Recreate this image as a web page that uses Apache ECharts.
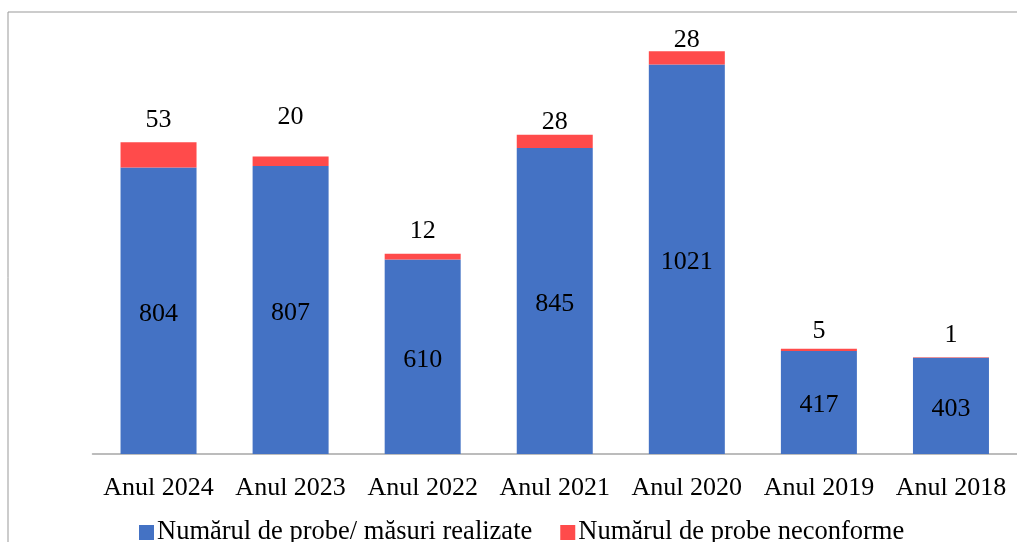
<!DOCTYPE html>
<html>
<head>
<meta charset="utf-8">
<script src="https://cdn.jsdelivr.net/npm/echarts@6/dist/echarts.min.js"></script>
<style>
  html, body { margin: 0; padding: 0; background: #fff; }
  #chart { width: 1017px; height: 542px; }
</style>
</head>
<body>
<div id="chart"></div>
<script>
var categories = ["Anul 2024", "Anul 2023", "Anul 2022", "Anul 2021", "Anul 2020", "Anul 2019", "Anul 2018"];
var realizate = [804, 807, 610, 845, 1021, 417, 403];
var neconforme = [53, 20, 12, 28, 28, 5, 1];
var seriesNames = ["Numărul de probe/ măsuri realizate", "Numărul de probe neconforme"];

// the labels above the red segments were placed by hand in the original
var topLabelGap = [9, 26, 10, 0, -2, 5, 9];

var font = "'Liberation Serif', 'Times New Roman', serif";

var chart = echarts.init(document.getElementById("chart"));

var redData = neconforme.map(function (v, i) {
  return { value: v, label: { distance: topLabelGap[i] } };
});

chart.setOption({
  animation: false,
  textStyle: { fontFamily: font },
  graphic: [
    {
      type: "rect",
      shape: { x: 8, y: 12, width: 1200, height: 700 },
      style: { fill: "none", stroke: "#999999", lineWidth: 1 },
      silent: true
    }
  ],
  legend: {
    data: seriesNames,
    left: 134,
    top: 514,
    itemWidth: 15,
    itemHeight: 15,
    itemGap: 28,
    icon: "rect",
    textStyle: { fontFamily: font, fontSize: 26.5, color: "#000", padding: [0, 0, 0, -2] }
  },
  grid: {
    left: 92.5,
    width: 929,
    top: 27,
    bottom: 88
  },
  xAxis: {
    type: "category",
    data: categories,
    axisTick: { show: false },
    axisLine: { lineStyle: { color: "#a6a6a6", width: 1.5 } },
    axisLabel: {
      interval: 0,
      color: "#000",
      fontFamily: font,
      fontSize: 26,
      margin: 21
    }
  },
  yAxis: {
    type: "value",
    min: 200,
    max: 1100,
    show: false,
    splitLine: { show: false }
  },
  series: [
    {
      name: seriesNames[0],
      type: "bar",
      stack: "total",
      barWidth: 76,
      data: realizate,
      itemStyle: { color: "#4472C4" },
      label: {
        show: true,
        position: "inside",
        offset: [0, 3],
        color: "#000",
        fontFamily: font,
        fontSize: 26
      }
    },
    {
      name: seriesNames[1],
      type: "bar",
      stack: "total",
      barWidth: 76,
      data: redData,
      itemStyle: { color: "#FF4B4B" },
      label: {
        show: true,
        position: "top",
        color: "#000",
        fontFamily: font,
        fontSize: 26
      }
    }
  ]
});
</script>
</body>
</html>
